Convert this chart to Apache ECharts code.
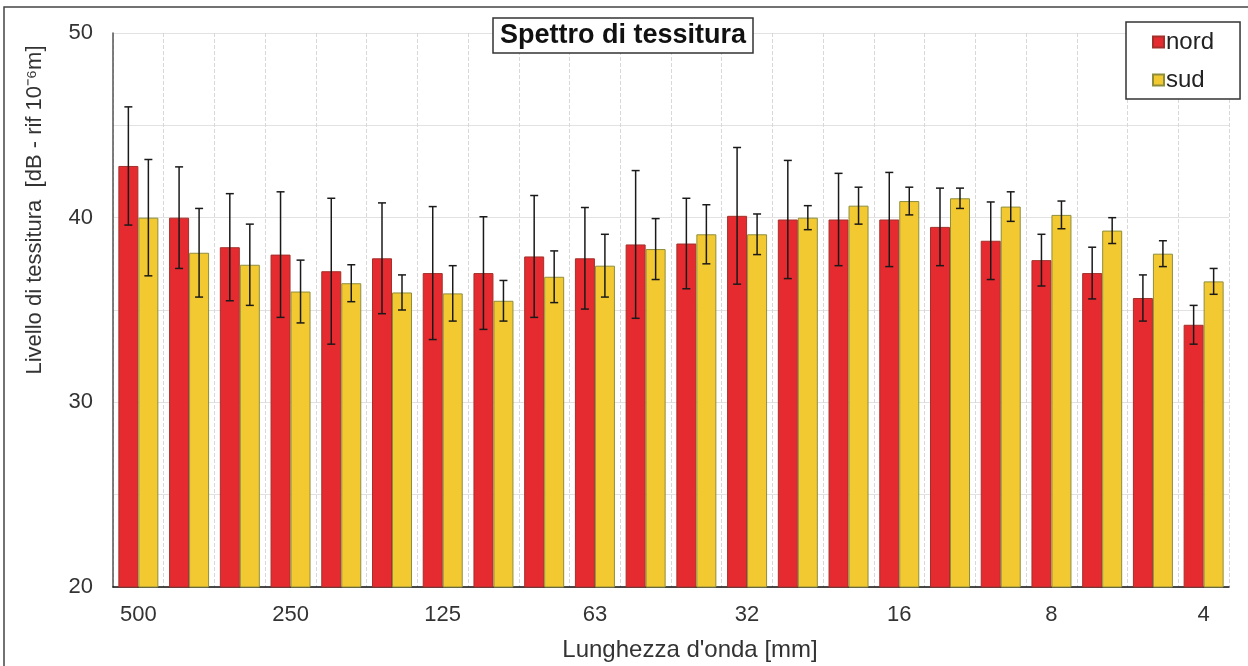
<!DOCTYPE html>
<html>
<head>
<meta charset="utf-8">
<title>Spettro di tessitura</title>
<script src="https://cdn.jsdelivr.net/npm/echarts@6/dist/echarts.min.js"></script>
<style>
  html, body { margin: 0; padding: 0; background: #fff; }
  #chart { width: 1248px; height: 666px; }
</style>
</head>
<body>
<div id="chart"></div>
<script>
// lunghezze d'onda [mm]
var categories = ['500', '400', '315', '250', '200', '160', '125', '100', '80', '63', '50',
  '40', '32', '25', '20', '16', '12.5', '10', '8', '6.3', '5', '4'];

// livelli medi [dB]
var nord = [42.8, 40.0, 38.4, 38.0, 37.1, 37.8, 37.0, 37.0, 37.9, 37.8, 38.55,
  38.6, 40.1, 39.9, 39.9, 39.9, 39.5, 38.75, 37.7, 37.0, 35.65, 34.2];
var sud = [40.0, 38.1, 37.45, 36.0, 36.45, 35.95, 35.9, 35.5, 36.8, 37.4, 38.3,
  39.1, 39.1, 40.0, 40.65, 40.9, 41.05, 40.6, 40.15, 39.3, 38.05, 36.55];

// deviazione standard (barre di errore)
var nordErr = [3.2, 2.75, 2.9, 3.4, 3.95, 3.0, 3.6, 3.05, 3.3, 2.75, 4.0,
  2.45, 3.7, 3.2, 2.5, 2.55, 2.1, 2.1, 1.4, 1.4, 1.25, 1.05];
var sudErr = [3.15, 2.4, 2.2, 1.7, 1.0, 0.95, 1.5, 1.1, 1.4, 1.7, 1.65,
  1.6, 1.1, 0.65, 1.0, 0.75, 0.55, 0.8, 0.75, 0.7, 0.7, 0.7];

var yTicks = [20, 30, 40, 50];

var myChart = echarts.init(document.getElementById('chart'));

var BAR_W = 20;

function errorBars(offset) {
  return function (params, api) {
    var i = api.value(0);
    var v = api.value(1);
    var e = api.value(2);
    var hi = api.coord([i, v + e]);
    var lo = api.coord([i, v - e]);
    var x = hi[0] + offset;
    var st = { stroke: '#1a1a1a', lineWidth: 1.5 };
    return {
      type: 'group',
      children: [
        { type: 'line', shape: { x1: x, y1: hi[1], x2: x, y2: lo[1] }, style: st },
        { type: 'line', shape: { x1: x - 4, y1: hi[1], x2: x + 4, y2: hi[1] }, style: st },
        { type: 'line', shape: { x1: x - 4, y1: lo[1], x2: x + 4, y2: lo[1] }, style: st }
      ]
    };
  };
}

function errData(vals, errs) {
  return vals.map(function (v, i) { return [i, v, errs[i]]; });
}

var option = {
  backgroundColor: '#fff',
  animation: false,
  textStyle: { fontFamily: 'Liberation Sans, Arial, sans-serif' },
  title: {
    text: 'Spettro di tessitura',
    left: 493,
    top: 18,
    padding: [4, 7, 4, 7],
    borderColor: '#333',
    borderWidth: 1.5,
    backgroundColor: '#fff',
    textStyle: { fontSize: 27, fontWeight: 'bold', color: '#111' }
  },
  legend: {
    data: ['nord', 'sud'],
    orient: 'vertical',
    left: 1126,
    top: 22,
    padding: [8, 26, 7, 26],
    itemGap: 14,
    itemWidth: 11,
    itemHeight: 11,
    icon: 'rect',
    borderColor: '#333',
    borderWidth: 1.5,
    backgroundColor: '#fff',
    textStyle: { fontSize: 24, color: '#222', padding: [0, 0, 0, -3] }
  },
  grid: { left: 113, right: 19, top: 33, bottom: 79 },
  xAxis: {
    type: 'category',
    data: categories,
    axisLine: { lineStyle: { color: '#111', width: 1.5 } },
    axisTick: { show: false },
    axisLabel: { interval: 2, fontSize: 22, color: '#333', margin: 17 },
    splitLine: { show: true, interval: 0, lineStyle: { color: '#d8d8d8', type: 'dashed' } }
  },
  yAxis: {
    type: 'value',
    min: 20,
    max: 50,
    interval: 5,
    axisLine: { show: true, lineStyle: { color: '#555', width: 1.5 } },
    axisTick: { show: false },
    axisLabel: {
      fontSize: 22,
      color: '#333',
      margin: 20,
      formatter: function (v) { return yTicks.indexOf(v) >= 0 ? v : ''; }
    },
    splitLine: { lineStyle: { color: '#e2e2e2' } }
  },
  graphic: [
    {
      type: 'rect',
      shape: { x: 4, y: 7, width: 1300, height: 700 },
      style: { fill: 'none', stroke: '#444', lineWidth: 1.5 },
      z: 100
    },
    {
      type: 'text',
      x: 35,
      y: 210,
      rotation: Math.PI / 2,
      style: {
        text: 'Livello di tessitura  [dB - rif 10\u207B\u2076m]',
        font: '22px "Liberation Sans", Arial, sans-serif',
        fill: '#333',
        align: 'center',
        verticalAlign: 'middle'
      }
    },
    {
      type: 'text',
      x: 690,
      y: 650,
      style: {
        text: "Lunghezza d'onda [mm]",
        font: '24px "Liberation Sans", Arial, sans-serif',
        fill: '#333',
        align: 'center',
        verticalAlign: 'middle'
      }
    }
  ],
  series: [
    {
      name: 'nord',
      type: 'bar',
      data: nord,
      barWidth: BAR_W,
      barGap: '0%',
      itemStyle: { color: '#e52b30', borderColor: '#a3302a', borderWidth: 1 }
    },
    {
      name: 'sud',
      type: 'bar',
      data: sud,
      barWidth: BAR_W,
      barGap: '0%',
      itemStyle: { color: '#f3c931', borderColor: '#8e8d3c', borderWidth: 1 }
    },
    {
      name: 'nord-err',
      type: 'custom',
      renderItem: errorBars(-BAR_W / 2),
      data: errData(nord, nordErr),
      encode: { x: 0, y: 1 },
      z: 10
    },
    {
      name: 'sud-err',
      type: 'custom',
      renderItem: errorBars(BAR_W / 2),
      data: errData(sud, sudErr),
      encode: { x: 0, y: 1 },
      z: 10
    }
  ]
};

myChart.setOption(option);
</script>
</body>
</html>
